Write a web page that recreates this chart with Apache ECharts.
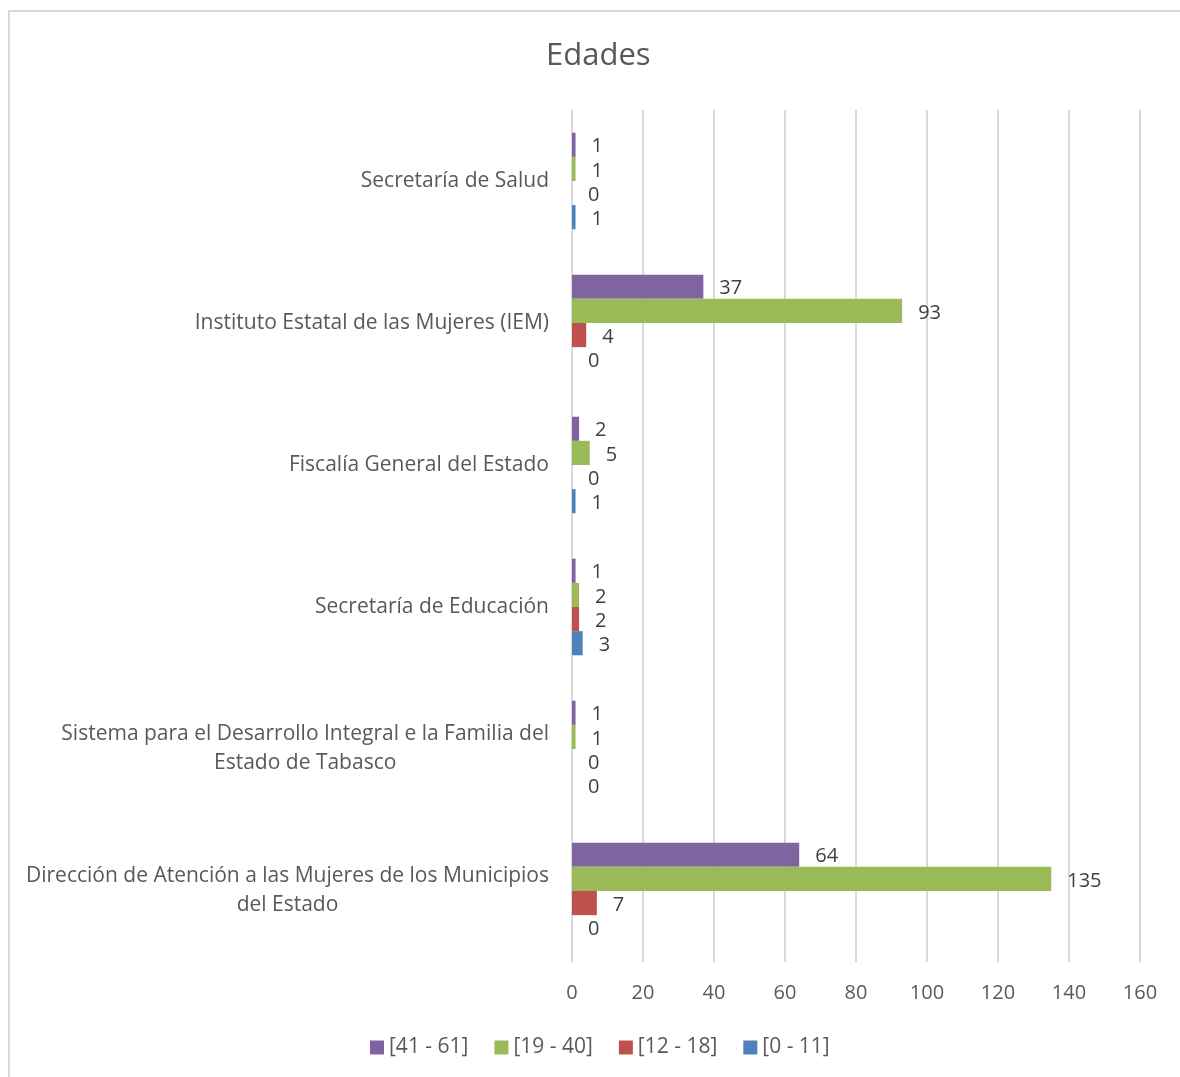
<!DOCTYPE html>
<html>
<head>
<meta charset="utf-8">
<script src="https://cdn.jsdelivr.net/npm/echarts@6/dist/echarts.min.js"></script>
<style>
html,body{margin:0;padding:0;background:#fff;}
#frame{position:absolute;left:8px;top:10px;width:1200px;height:1100px;border:2px solid #d9d9d9;box-sizing:border-box;}
#chart{position:absolute;left:0;top:0;width:1180px;height:1077px;}
</style>
</head>
<body>
<div id="frame"></div>
<div id="chart"></div>
<script>
// categories listed bottom to top
var categories = [
  "Dirección de Atención a las Mujeres de los Municipios\ndel Estado",
  "Sistema para el Desarrollo Integral e la Familia del\nEstado de Tabasco",
  "Secretaría de Educación",
  "Fiscalía General del Estado",
  "Instituto Estatal de las Mujeres (IEM)",
  "Secretaría de Salud"
];
var seriesNames = ["[41 - 61]", "[19 - 40]", "[12 - 18]", "[0 - 11]"];
var age41_61 = [64, 1, 1, 2, 37, 1];
var age19_40 = [135, 1, 2, 5, 93, 1];
var age12_18 = [7, 0, 2, 0, 4, 0];
var age0_11  = [0, 0, 3, 1, 0, 1];
var xTicks = [0, 20, 40, 60, 80, 100, 120, 140, 160];
var colors = ["#8064A2", "#9BBB59", "#C0504D", "#4F81BD"];

var FONT = "'Open Sans', sans-serif";
var allValues = [age41_61, age19_40, age12_18, age0_11];

var chart = echarts.init(document.getElementById('chart'), null, {renderer: 'canvas'});
var series = seriesNames.map(function (n, i) {
  return {
    name: n,
    type: 'bar',
    data: allValues[i],
    barGap: '0%',
    barCategoryGap: '32%',
    itemStyle: {color: colors[i]},
    label: {
      show: true,
      position: 'right',
      distance: 16,
      offset: [0, 2],
      color: '#404040',
      fontSize: 20,
      fontFamily: FONT
    }
  };
});

chart.setOption({
  animation: false,
  backgroundColor: 'transparent',
  color: colors,
  title: {
    text: 'Edades',
    left: 541,
    top: 36,
    textStyle: {color: '#595959', fontSize: 31, fontWeight: 'normal', fontFamily: FONT}
  },
  legend: {
    data: seriesNames,
    bottom: 14,
    left: 365,
    itemWidth: 14,
    itemHeight: 14,
    itemGap: 26,
    icon: 'rect',
    textStyle: {color: '#595959', fontSize: 21, fontFamily: FONT}
  },
  grid: {left: 572, right: 40, top: 110, bottom: 115, containLabel: false},
  xAxis: {
    type: 'value',
    min: xTicks[0],
    max: xTicks[xTicks.length - 1],
    interval: xTicks[1] - xTicks[0],
    axisLine: {show: false},
    axisTick: {show: false},
    splitLine: {show: true, lineStyle: {color: '#d9d9d9', width: 2}},
    axisLabel: {color: '#595959', fontSize: 20, fontFamily: FONT, margin: 21}
  },
  yAxis: {
    type: 'category',
    data: categories,
    axisLine: {show: false},
    axisTick: {show: false},
    axisLabel: {
      color: '#595959',
      fontSize: 21,
      fontFamily: FONT,
      margin: 23,
      lineHeight: 29,
      formatter: function (v) {
        return v.split('\n').map(function (s) { return '{c|' + s + '}'; }).join('\n');
      },
      rich: {
        c: {align: 'center', color: '#595959', fontSize: 21, fontFamily: FONT, lineHeight: 29}
      }
    }
  },
  series: series
});
</script>
</body>
</html>
